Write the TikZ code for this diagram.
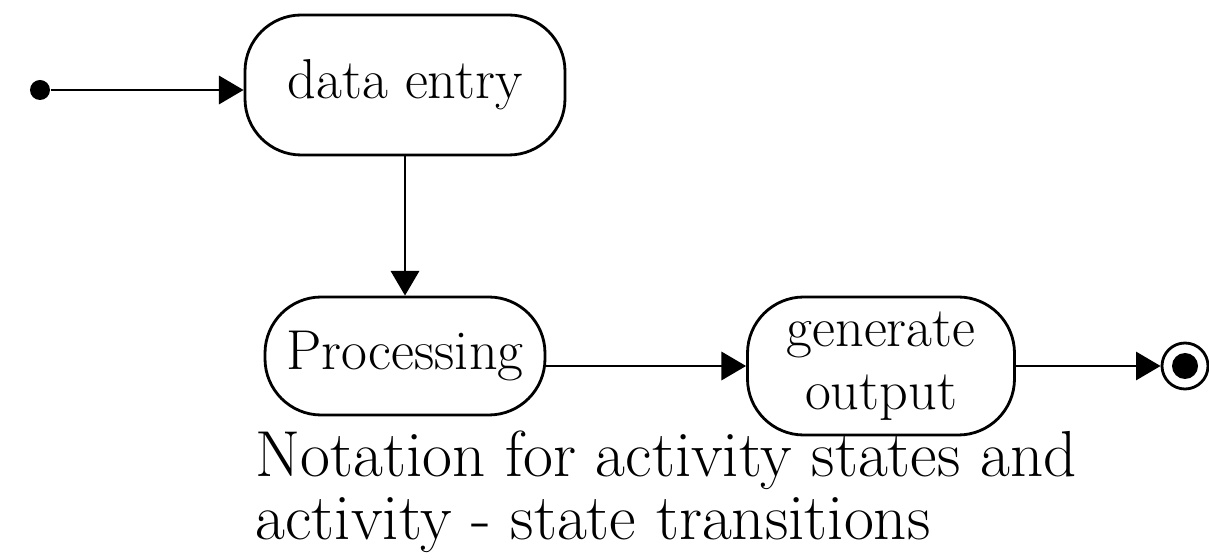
\documentclass[tikz,border=0pt]{standalone}
\usetikzlibrary{arrows.meta, positioning}
\tikzset{
  activity/.style={draw, thick, rounded corners=16pt, align=center, font=\fontsize{16}{18}\selectfont},
  trans/.style={thick, -{Triangle[length=7pt,width=8pt]}}
}
\begin{document}
\begin{tikzpicture}
\useasboundingbox (0,0) rectangle (12.09,5.60);
% Activity states
\node[activity, minimum width=3.2cm, minimum height=1.4cm] (entry) at (4.05,4.75) {data entry};
\node[activity, minimum width=2.8cm, minimum height=1.18cm] (proc) at (4.05,2.04) {Processing};
\node[activity, minimum width=2.67cm, minimum height=1.38cm] (gen) at (8.81,1.94) {generate\\output};
% Initial and final states
\node[circle, fill, inner sep=0, minimum size=0.2cm] (start) at (0.40,4.70) {};
\node[circle, draw, thick, inner sep=0, minimum size=0.46cm] (stop) at (11.85,1.94) {};
\node[circle, fill, inner sep=0, minimum size=0.26cm] (stopdot) at (stop) {};
% Transitions between states
\draw[trans] (start) -- (start -| entry.west);
\draw[trans] (entry) -- (proc);
\draw[trans] (proc.east |- gen) -- (gen.west);
\draw[trans] (gen) -- (stop);
% Caption below the diagram
\node[anchor=north west, align=left, inner sep=0, font=\fontsize{18.5}{18}\selectfont] (caption) at (2.55,1.30)
  {Notation for activity states and\\activity - state transitions};
\end{tikzpicture}
\end{document}
